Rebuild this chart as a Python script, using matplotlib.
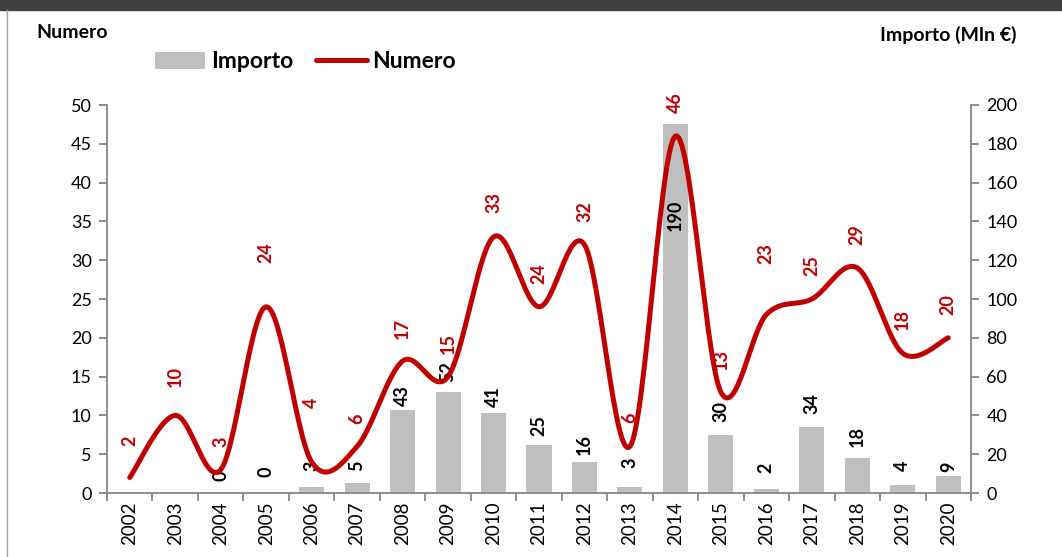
import numpy as np
import matplotlib
matplotlib.use("Agg")
import matplotlib.pyplot as plt
from matplotlib.patches import Rectangle, Patch
from matplotlib.lines import Line2D

plt.rcParams['font.family'] = ['Lato', 'DejaVu Sans']

years = [str(y) for y in range(2002, 2021)]
numero = [2, 10, 3, 24, 4, 6, 17, 15, 33, 24, 32, 6, 46, 13, 23, 25, 29, 18, 20]
importo = [np.nan, np.nan, 0, 0, 3, 5, 43, 52, 41, 25, 16, 3, 190, 30, 2, 34, 18, 4, 9]

# label offsets (pixels) above the point / bar top
red_off = [31, 28, 23, 44, 54, 22, 22, 23, 24, 23, 23, 23, 23, 22, 51, 23, 23, 23, 23]
blk_off = [0, 0, 12, 16, 16, 12, 4, 10, 6, 9, 7, 19, -107, 13, 16, 13, 11, 14, 4]

RED = '#C00000'
BAR = '#BFBFBF'
AX = '#868686'

W, H = 1062, 557
fig = plt.figure(figsize=(W / 100, H / 100), dpi=100)
ax = fig.add_axes([107 / W, 1 - 493 / H, (971 - 107) / W, (493 - 105) / H])
ax2 = ax.twinx()
ax.set_zorder(ax2.get_zorder() + 1)
ax.patch.set_visible(False)

x = np.arange(len(years))

# bars on right axis
ax2.bar(x, importo, width=0.55, color=BAR, zorder=2)
ax2.set_ylim(0, 200)
ax2.set_yticks(np.arange(0, 201, 20))

# smooth line (Catmull-Rom through the data points, as Excel smoothing)
pts = np.column_stack([x, numero]).astype(float)
curve = []
n = len(pts)
for i in range(n - 1):
    p0 = pts[i - 1] if i > 0 else pts[i]
    p1 = pts[i]
    p2 = pts[i + 1]
    p3 = pts[i + 2] if i + 2 < n else pts[i + 1]
    c1 = p1 + (p2 - p0) / 6.0
    c2 = p2 - (p3 - p1) / 6.0
    t = np.linspace(0, 1, 30)[:, None]
    seg = ((1 - t) ** 3) * p1 + 3 * ((1 - t) ** 2) * t * c1 + 3 * (1 - t) * t ** 2 * c2 + t ** 3 * p2
    curve.append(seg if i == 0 else seg[1:])
curve = np.vstack(curve)
ax.plot(curve[:, 0], curve[:, 1], color=RED, lw=3.6, solid_capstyle='round', zorder=3)
ax.set_ylim(0, 50)
ax.set_yticks(np.arange(0, 51, 5))
ax.set_xlim(-0.5, len(years) - 0.5)

# labels
for i in range(len(years)):
    ax.annotate(str(numero[i]), (x[i], numero[i]), xytext=(0, red_off[i]),
                textcoords='offset pixels', rotation=90, ha='center', va='bottom',
                color=RED, fontsize=13, fontweight='bold', zorder=5)
    if not np.isnan(importo[i]):
        ax2.annotate(str(int(importo[i])), (x[i], importo[i]), xytext=(0, blk_off[i]),
                     textcoords='offset pixels', rotation=90, ha='center', va='bottom',
                     color='black', fontsize=13, fontweight='bold', zorder=5)

# axes styling
for a in (ax, ax2):
    a.spines['top'].set_visible(False)
    for s in ('left', 'right', 'bottom'):
        a.spines[s].set_color(AX)
        a.spines[s].set_linewidth(1.3)
ax.spines['right'].set_visible(False)
ax2.spines['left'].set_visible(False)
ax2.spines['bottom'].set_visible(False)

ax.tick_params(axis='y', direction='out', length=6, color=AX, width=1.3, labelsize=13, pad=5)
ax2.tick_params(axis='y', direction='out', length=6, color=AX, width=1.3, labelsize=13, pad=5)

ax.set_xticks(np.arange(-0.5, len(years), 1.0))
ax.set_xticklabels([])
ax.tick_params(axis='x', which='major', direction='out', length=6, color=AX, width=1.3)
ax.set_xticks(x, minor=True)
ax.set_xticklabels(years, minor=True, rotation=90)
ax.tick_params(axis='x', which='minor', length=0, labelsize=13.5, pad=6)

# axis titles
fig.text(36 / W, 1 - 32 / H, 'Numero', fontsize=14, fontweight='bold', ha='left', va='center')
fig.text(1016 / W, 1 - 35 / H, 'Importo (Mln €)', fontsize=14, fontweight='bold', ha='right', va='center')

# legend
handles = [Patch(facecolor=BAR, edgecolor='none'),
           Line2D([], [], color=RED, lw=3.6, solid_capstyle='round')]
leg = fig.legend(handles, ['Importo', 'Numero'], loc='center left',
                 bbox_to_anchor=(155 / W, 1 - 62 / H), ncol=2, frameon=False,
                 prop={'weight': 'bold', 'size': 16.5}, handlelength=2.2,
                 handletextpad=0.25, columnspacing=1.0, borderpad=0, borderaxespad=0)

# frame decoration
fig.patches.append(Rectangle((0, 1 - 10 / H), 1, 10 / H, transform=fig.transFigure,
                             color='#404040', zorder=0))
fig.lines.append(Line2D([7 / W, 7 / W], [0, 1 - 10 / H], transform=fig.transFigure,
                        color='#A0A0A0', lw=1))

fig.savefig('out.png', dpi=100)
